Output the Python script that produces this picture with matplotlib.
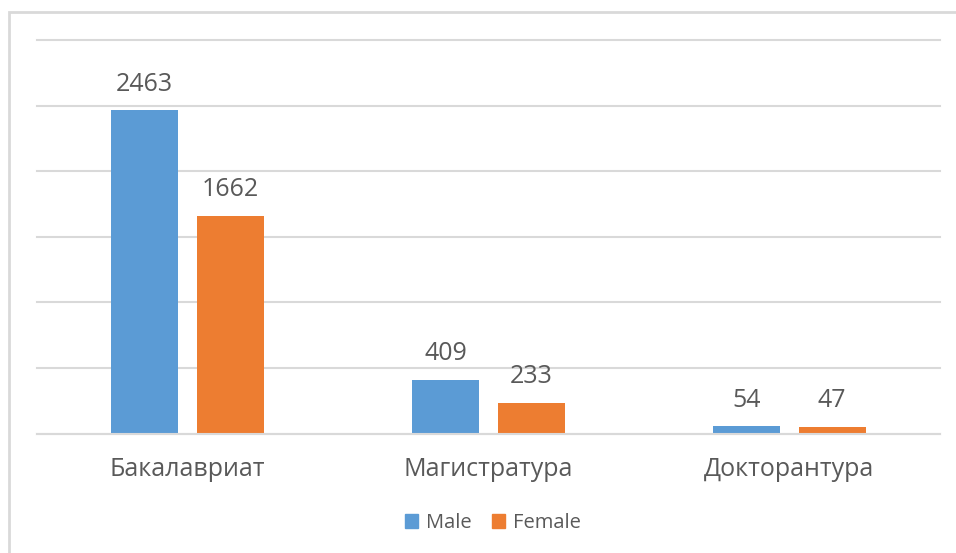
import matplotlib.pyplot as plt
import numpy as np
from matplotlib.patches import Patch, Rectangle

categories = ["Бакалавриат", "Магистратура", "Докторантура"]
male = [2463, 409, 54]
female = [1662, 233, 47]
series_names = ["Male", "Female"]

BLUE = "#5B9BD5"
ORANGE = "#ED7D31"
TEXT = "#595959"
GRID = "#D9D9D9"

plt.rcParams["font.family"] = ["Open Sans", "DejaVu Sans"]

fig = plt.figure(figsize=(9.56, 5.53), dpi=100)
fig.patch.set_facecolor("white")

# chart frame (partially off-canvas like the screenshot)
fig.patches.append(Rectangle((9 / 956, -0.05), 1.1, 1 - 12 / 553 + 0.05,
                             transform=fig.transFigure, fill=False,
                             edgecolor=GRID, linewidth=2))

ax = fig.add_axes([37 / 956, 1 - 433.5 / 553, 903 / 956, (433.5 - 40) / 553])

x = np.arange(len(categories))
width = 0.223
off = 0.142
b1 = ax.bar(x - off, male, width, color=BLUE, label=series_names[0])
b2 = ax.bar(x + off, female, width, color=ORANGE, label=series_names[1])

for bars in (b1, b2):
    ax.bar_label(bars, padding=10, fontsize=18, color=TEXT)

ax.set_xlim(-0.5, len(categories) - 0.5)
ax.set_ylim(0, 3000)
ax.set_yticks(np.arange(0, 3001, 500))
ax.yaxis.grid(True, color=GRID, linewidth=1.5)
for gl in ax.yaxis.get_gridlines():
    gl.set_clip_on(False)
ax.set_axisbelow(True)
ax.tick_params(axis="y", left=False, labelleft=False)
ax.tick_params(axis="x", length=0, pad=17, labelsize=18, labelcolor=TEXT)
ax.set_xticks(x)
ax.set_xticklabels(categories)
for s in ("top", "right", "left"):
    ax.spines[s].set_visible(False)
ax.spines["bottom"].set_color(GRID)
ax.spines["bottom"].set_linewidth(1.5)

handles = [Patch(color=BLUE, label=series_names[0]),
           Patch(color=ORANGE, label=series_names[1])]
fig.legend(handles=handles, loc="center", bbox_to_anchor=(493 / 956, 1 - 523 / 553),
           ncol=2, frameon=False, fontsize=14.5, labelcolor=TEXT,
           handlelength=0.65, handleheight=0.65, handletextpad=0.4, columnspacing=1.0)

fig.savefig("out.png", dpi=100)
